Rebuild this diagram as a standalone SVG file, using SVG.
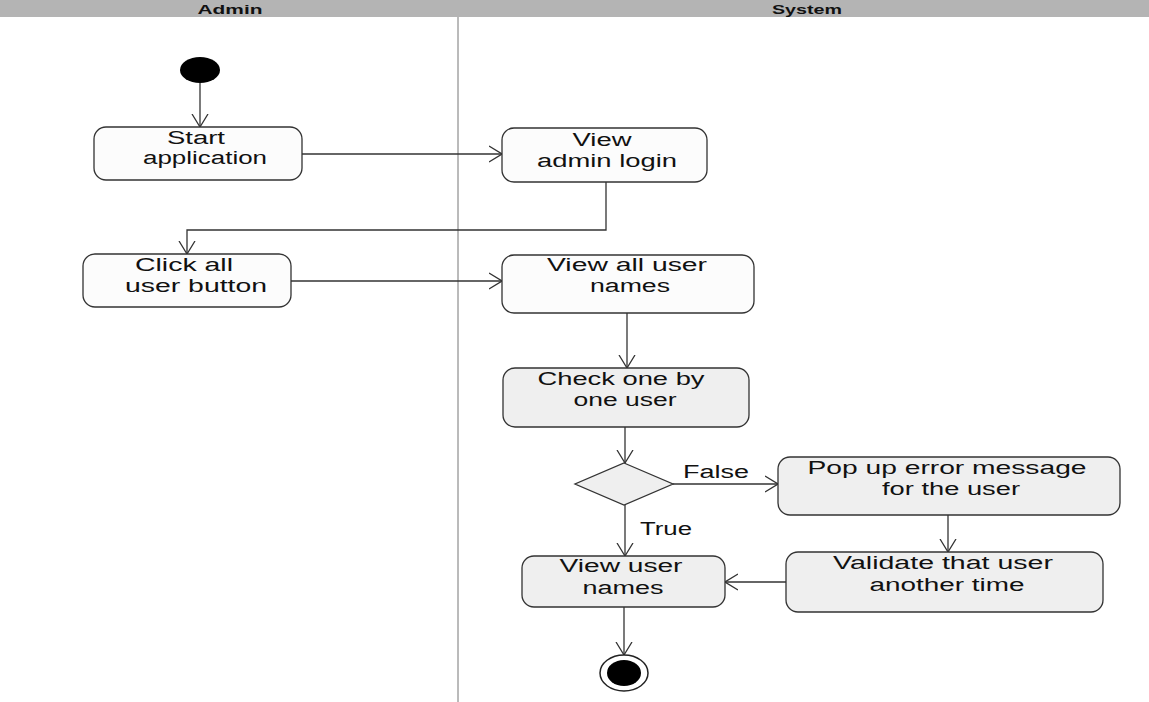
<svg xmlns="http://www.w3.org/2000/svg" width="1149" height="702" viewBox="0 0 1149 702">
  <style>
    .lane-title { font-family: "Liberation Sans", Arial, sans-serif; font-size: 13px; font-weight: bold; fill: #111; text-anchor: middle; }
    .act { stroke: #333; stroke-width: 1.3; }
    .act-a { fill: #fcfcfc; }
    .act-s { fill: #efefef; }
    .label { font-family: "Liberation Sans", Arial, sans-serif; font-size: 18px; fill: #111; text-anchor: middle; }
    .guard { font-family: "Liberation Sans", Arial, sans-serif; font-size: 18px; fill: #111; }
    .flow { fill: none; stroke: #333; stroke-width: 1.3; marker-end: url(#open-arrow); }
  </style>
  <defs>
    <marker id="open-arrow" markerUnits="userSpaceOnUse" viewBox="0 0 14 18" refX="13" refY="9" markerWidth="14" markerHeight="18" orient="auto">
      <path d="M0,1 L13,9 L0,17" fill="none" stroke="#333" stroke-width="1.3"/>
    </marker>
  </defs>

  <rect width="1149" height="702" fill="#ffffff"/>

  <!-- swimlane header and divider -->
  <g id="lanes">
    <rect x="0" y="0" width="1149" height="17" fill="#b4b4b4"/>
    <text class="lane-title" x="230" y="14" textLength="65" lengthAdjust="spacingAndGlyphs">Admin</text>
    <text class="lane-title" x="807" y="14" textLength="70" lengthAdjust="spacingAndGlyphs">System</text>
    <line x1="458" y1="17" x2="458" y2="702" stroke="#777" stroke-width="1"/>
  </g>

  <!-- connectors -->
  <g id="connectors">
    <path class="flow" d="M200,83 L200,127"/>
    <path class="flow" d="M302,154 L502,154"/>
    <path class="flow" d="M606,182 L606,230 L187,230 L187,254"/>
    <path class="flow" d="M291,281 L502,281"/>
    <path class="flow" d="M627,313 L627,368"/>
    <path class="flow" d="M625,427 L625,463"/>
    <path class="flow" d="M673,484 L778,484"/>
    <path class="flow" d="M948,515 L948,552"/>
    <path class="flow" d="M786,582 L725,582"/>
    <path class="flow" d="M625,505 L625,556"/>
    <path class="flow" d="M624,607 L624,655"/>
    <text class="guard" x="683" y="478" textLength="66" lengthAdjust="spacingAndGlyphs">False</text>
    <text class="guard" x="640" y="535" textLength="52" lengthAdjust="spacingAndGlyphs">True</text>
  </g>

  <!-- nodes -->
  <g id="start">
    <ellipse cx="200" cy="70" rx="20" ry="13" fill="#000"/>
  </g>

  <g id="start-application">
    <rect class="act act-a" x="94" y="127" width="208" height="53" rx="12"/>
    <text class="label" x="196" y="144" textLength="58" lengthAdjust="spacingAndGlyphs">Start</text>
    <text class="label" x="205" y="164" textLength="124" lengthAdjust="spacingAndGlyphs">application</text>
  </g>

  <g id="view-admin-login">
    <rect class="act act-a" x="502" y="128" width="205" height="54" rx="12"/>
    <text class="label" x="602" y="146" textLength="59" lengthAdjust="spacingAndGlyphs">View</text>
    <text class="label" x="607" y="167" textLength="140" lengthAdjust="spacingAndGlyphs">admin login</text>
  </g>

  <g id="click-all-user-button">
    <rect class="act act-a" x="83" y="254" width="208" height="53" rx="12"/>
    <text class="label" x="184" y="271" textLength="98" lengthAdjust="spacingAndGlyphs">Click all</text>
    <text class="label" x="196" y="292" textLength="142" lengthAdjust="spacingAndGlyphs">user button</text>
  </g>

  <g id="view-all-user-names">
    <rect class="act act-a" x="502" y="255" width="252" height="58" rx="12"/>
    <text class="label" x="627" y="271" textLength="160" lengthAdjust="spacingAndGlyphs">View all user</text>
    <text class="label" x="630" y="292" textLength="80" lengthAdjust="spacingAndGlyphs">names</text>
  </g>

  <g id="check-one-by-one-user">
    <rect class="act act-s" x="503" y="368" width="246" height="59" rx="12"/>
    <text class="label" x="621" y="385" textLength="167" lengthAdjust="spacingAndGlyphs">Check one by</text>
    <text class="label" x="625" y="406" textLength="103" lengthAdjust="spacingAndGlyphs">one user</text>
  </g>

  <g id="decision">
    <polygon class="act act-s" points="624,463 673,484 624,505 575,484"/>
  </g>

  <g id="pop-up-error">
    <rect class="act act-s" x="778" y="457" width="342" height="58" rx="12"/>
    <text class="label" x="947" y="474" textLength="279" lengthAdjust="spacingAndGlyphs">Pop up error message</text>
    <text class="label" x="951" y="495" textLength="138" lengthAdjust="spacingAndGlyphs">for the user</text>
  </g>

  <g id="validate-user">
    <rect class="act act-s" x="786" y="552" width="317" height="60" rx="12"/>
    <text class="label" x="943" y="569" textLength="220" lengthAdjust="spacingAndGlyphs">Validate that user</text>
    <text class="label" x="947" y="591" textLength="155" lengthAdjust="spacingAndGlyphs">another time</text>
  </g>

  <g id="view-user-names">
    <rect class="act act-s" x="522" y="556" width="203" height="51" rx="12"/>
    <text class="label" x="621" y="572" textLength="123" lengthAdjust="spacingAndGlyphs">View user</text>
    <text class="label" x="623" y="594" textLength="81" lengthAdjust="spacingAndGlyphs">names</text>
  </g>

  <g id="end">
    <ellipse cx="624" cy="673" rx="24" ry="18" fill="#fff" stroke="#222" stroke-width="1.5"/>
    <ellipse cx="624" cy="673" rx="17" ry="13" fill="#000"/>
  </g>
</svg>
